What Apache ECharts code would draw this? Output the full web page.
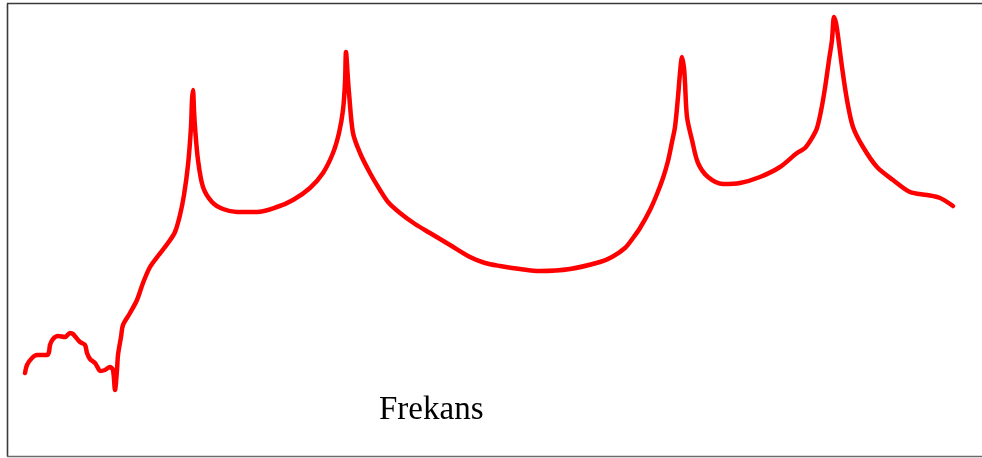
<!DOCTYPE html>
<html>
<head>
<meta charset="utf-8">
<script src="https://cdn.jsdelivr.net/npm/echarts@6/dist/echarts.min.js"></script>
<style>
  html, body { margin: 0; padding: 0; background: #fff; }
  #chart { width: 982px; height: 458px; }
</style>
</head>
<body>
<div id="chart"></div>
<script>
// Frequency response sketch: frequency positions and response amplitude
const freq = [25, 27, 32, 37, 47, 49, 50, 53, 58, 65, 70, 73, 80, 85, 87, 90, 95, 98, 100, 105,
  110, 113, 115, 117, 118, 121, 123, 130, 137, 143, 150, 158, 168, 175, 180, 184, 188, 191, 192, 193,
  194, 195, 198, 203, 212, 223, 237, 257, 277, 293, 310, 323, 333, 339, 343, 345, 346, 348, 349,
  353, 360, 370, 380, 388, 400, 415, 430, 450, 470, 485, 500, 520, 540, 570, 600, 612, 625, 633, 640,
  650, 657, 663, 668, 672, 675, 678, 680, 682, 684, 685, 687, 692, 698, 708, 723, 740, 760, 780, 797,
  805, 812, 817, 821, 825, 829, 832, 834, 836, 838, 842, 847, 853, 863, 877, 893, 910, 927, 940, 953];
const amp = [85, 93, 100, 103, 103, 106, 113, 119, 122, 121, 125, 124, 116, 113, 105, 99, 95, 90, 87, 88,
  91, 88, 68, 88, 103, 121, 133, 145, 158, 175, 191, 202, 215, 226, 243, 263, 293, 331, 358, 368,
  348, 331, 298, 271, 256, 249, 246, 246, 251, 258, 270, 285, 305, 325, 348, 375, 406, 378, 365,
  325, 305, 285, 268, 256, 245, 234, 225, 213, 201, 195, 192, 189, 187, 189, 196, 201, 210, 220, 230,
  248, 264, 280, 297, 316, 331, 361, 385, 401, 390, 375, 341, 318, 295, 281, 274, 275, 281, 291, 305,
  310, 320, 330, 347, 370, 398, 418, 441, 435, 422, 391, 358, 331, 311, 291, 278, 266, 263, 260, 252];

const axisLabel = 'Frekans';

const chart = echarts.init(document.getElementById('chart'), null, { renderer: 'canvas' });

chart.setOption({
  animation: false,
  backgroundColor: '#ffffff',
  grid: { left: 0, right: 0, top: 0, bottom: 0 },
  xAxis: { type: 'value', min: 0, max: 982, show: false },
  yAxis: { type: 'value', min: 0, max: 458, show: false },
  graphic: [
    { type: 'line', shape: { x1: 7.5, y1: 3.5, x2: 7.5, y2: 456.5 },
      style: { stroke: '#3a3a3a', lineWidth: 1.6 } },
    { type: 'line', shape: { x1: 7, y1: 3.5, x2: 982, y2: 3.5 },
      style: { stroke: '#3a3a3a', lineWidth: 1.6 } },
    { type: 'line', shape: { x1: 7, y1: 456.5, x2: 982, y2: 456.5 },
      style: { stroke: '#6a6a6a', lineWidth: 1.6 } },
    { type: 'text', left: 379, top: 394,
      style: { text: axisLabel, fill: '#000', font: '33px "Liberation Serif", "Times New Roman", serif' } }
  ],
  series: [{
    type: 'line',
    data: freq.map((f, i) => [f, amp[i]]),
    showSymbol: false,
    smooth: 0.3,
    lineStyle: { color: '#ff0000', width: 4.5, cap: 'round', join: 'round' }
  }]
});
</script>
</body>
</html>
